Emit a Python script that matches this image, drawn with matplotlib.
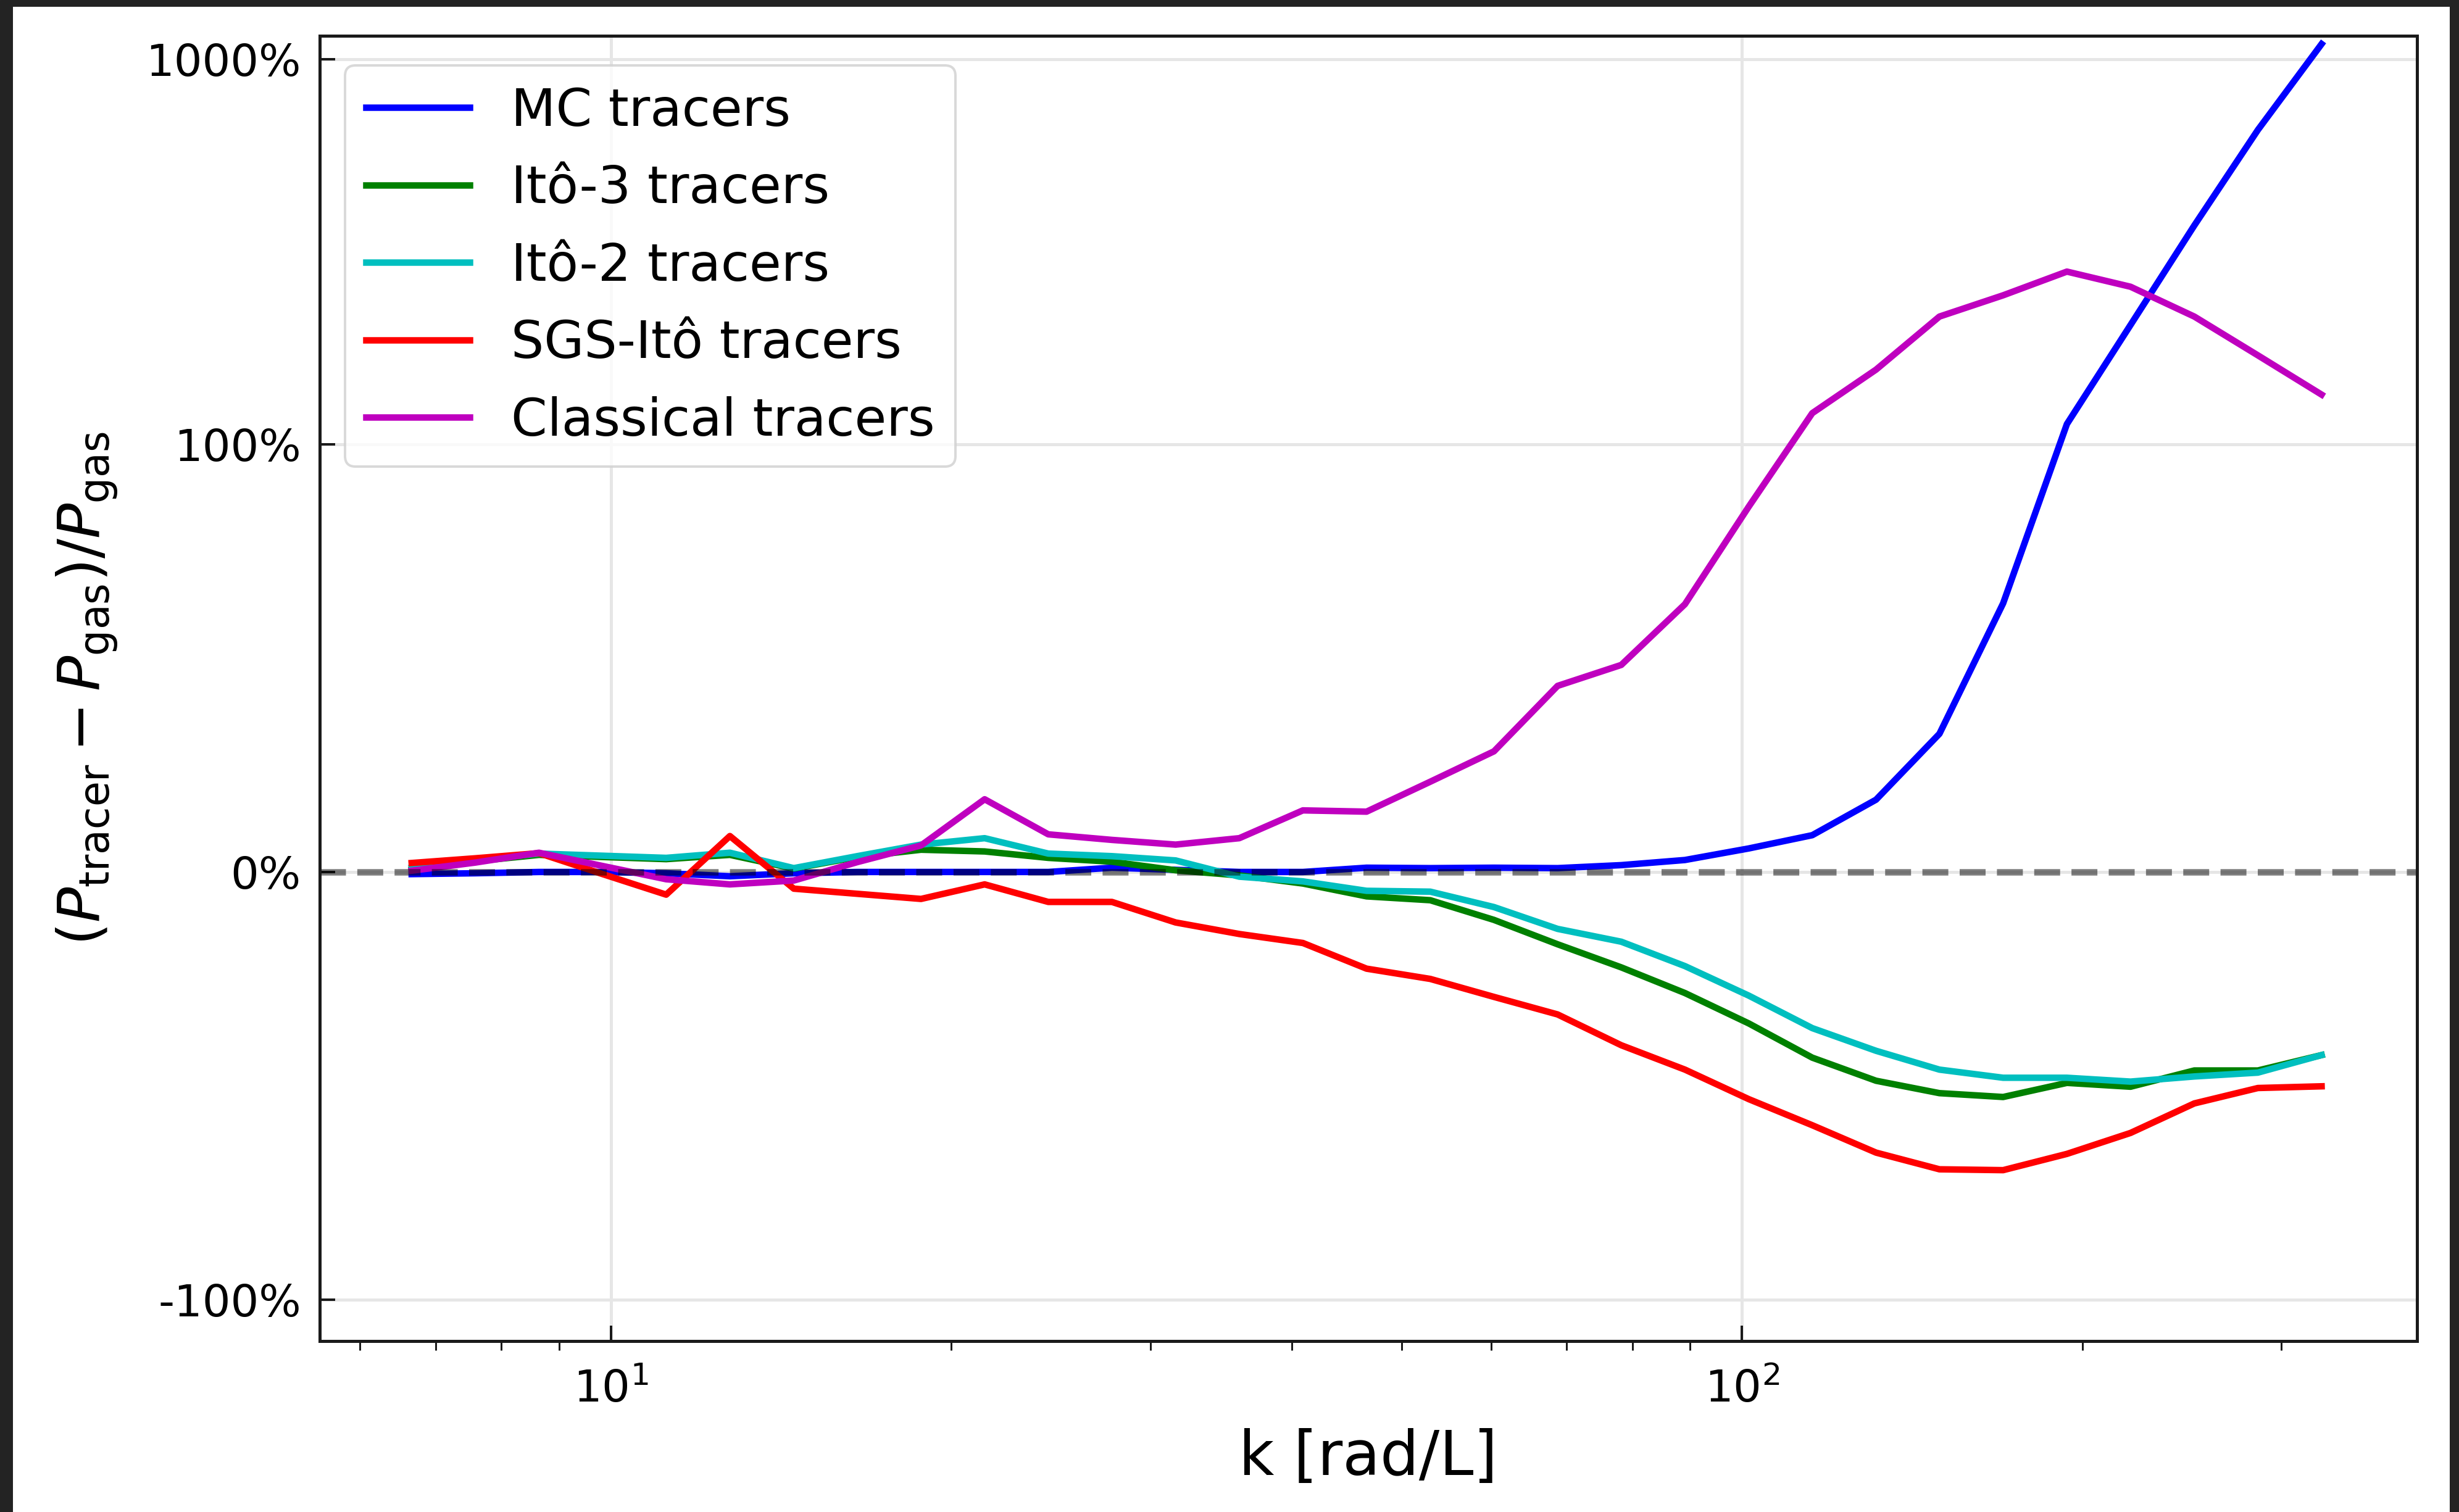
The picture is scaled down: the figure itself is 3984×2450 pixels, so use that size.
import matplotlib
matplotlib.use("Agg")
import matplotlib.pyplot as plt
from matplotlib.ticker import FuncFormatter, NullLocator, FixedLocator
from matplotlib.patches import Rectangle

# wavenumbers (rad/L)
k = [6.665, 7.587, 8.637, 9.833, 11.19, 12.74, 14.51, 16.51, 18.80, 21.40,
     24.36, 27.73, 31.57, 35.94, 40.91, 46.57, 53.02, 60.36, 68.71, 78.22,
     89.05, 101.4, 115.4, 131.4, 149.5, 170.2, 193.8, 220.6, 251.2, 285.9, 325.5]

# relative difference (P_tracer - P_gas)/P_gas in percent
mc = [-0.5, -0.3, 0.0, 0.0, -0.3, -1.0, -0.3, 0.0, 0.0, 0.0,
      0.0, 1.0, 0.5, 0.0, 0.0, 1.0, 0.9, 1.0, 0.9, 1.6,
      2.8, 5.5, 8.6, 16.9, 32.3, 62.8, 112.8, 204.0, 370.0, 655.0, 1095.0]
ito3 = [0.5, 2.5, 4.0, 3.5, 3.0, 4.0, 0.8, 3.5, 5.2, 4.8,
        3.3, 2.4, 0.4, -0.8, -2.7, -5.7, -6.6, -11.2, -16.9, -22.3,
        -28.3, -35.4, -43.4, -48.8, -51.7, -52.6, -49.3, -50.2, -46.4, -46.4, -42.8]
ito2 = [1.0, 2.8, 4.3, 3.8, 3.3, 4.5, 0.9, 3.7, 6.4, 7.9,
        4.3, 3.7, 2.7, -1.1, -2.2, -4.4, -4.6, -8.2, -13.3, -16.3,
        -22.0, -28.9, -36.5, -41.8, -46.2, -48.1, -48.1, -49.0, -47.8, -46.9, -42.8]
sgs = [2.1, 3.2, 4.4, -0.5, -5.3, 8.4, -3.9, -5.1, -6.3, -2.9,
       -7.0, -7.0, -11.8, -14.5, -16.6, -22.6, -25.0, -29.2, -33.3, -40.5,
       -46.2, -53.1, -59.2, -65.6, -69.5, -69.7, -65.9, -61.0, -54.1, -50.5, -50.1]
classical = [0.3, 2.2, 4.5, 1.4, -1.7, -2.9, -2.0, 2.3, 6.2, 17.0,
             8.8, 7.5, 6.4, 7.9, 14.4, 14.1, 21.1, 28.2, 43.5, 48.4,
             62.6, 85.4, 120.4, 156.2, 214.5, 243.6, 280.7, 256.4, 214.5, 170.1, 134.5]

labels = ["MC tracers", "Itô-3 tracers", "Itô-2 tracers", "SGS-Itô tracers", "Classical tracers"]
colors = ["b", "g", "c", "r", "m"]
series = [mc, ito3, ito2, sgs, classical]

W, H = 3984, 2450
fig = plt.figure(figsize=(W / 72, H / 72), dpi=72)
fig.patch.set_facecolor("white")
ax = fig.add_axes([518 / W, 1 - 2173 / H, (3916 - 518) / W, (2173 - 58) / H])

LW = 10.5
for y, c, lab in zip(series, colors, labels):
    ax.plot(k, y, color=c, lw=LW, label=lab)
ax.axhline(0, color="k", alpha=0.5, lw=LW, ls="--", dashes=(4.0, 1.75))

ax.set_xscale("log")
ax.set_yscale("symlog", linthresh=100, linscale=1)
ax.set_xlim(5.527, 395.3)
ax.set_ylim(-128, 1150)
ax.yaxis.set_major_locator(FixedLocator([-100, 0, 100, 1000]))
ax.yaxis.set_minor_locator(NullLocator())
ax.yaxis.set_major_formatter(FuncFormatter(lambda v, p: f"{v:.0f}%"))

ax.grid(True, which="major", color="#e6e6e6", lw=5)
ax.set_axisbelow(True)
for s in ax.spines.values():
    s.set_linewidth(5)
    s.set_color("#1a1a1a")

ax.tick_params(which="major", direction="in", length=25, width=4, labelsize=72, colors="#1a1a1a")
ax.tick_params(axis="x", which="major", pad=45)
ax.tick_params(axis="y", which="major", pad=30)
ax.tick_params(which="minor", direction="out", length=15, width=3, colors="#1a1a1a")
for t in ax.get_xticklabels() + ax.get_yticklabels():
    t.set_color("black")

ax.set_xlabel("k [rad/L]", fontsize=99, labelpad=27)
ax.set_ylabel(r"$(P_{\mathrm{tracer}} - P_{\mathrm{gas}})/P_{\mathrm{gas}}$", fontsize=95, labelpad=42)

leg = ax.legend(loc="upper left", fontsize=84, borderaxespad=0.0, labelspacing=0.53,
                framealpha=0.8, bbox_to_anchor=(41 / 3398, 1 - 48 / 2115))
leg.get_frame().set_linewidth(4)
leg.get_frame().set_edgecolor("#d0d0d0")

# dark screenshot frame
dark = "#232323"
fig.add_artist(Rectangle((0, 0), 20 / W, 1, transform=fig.transFigure, color=dark, zorder=10))
fig.add_artist(Rectangle((0, 1 - 10 / H), 1, 10 / H, transform=fig.transFigure, color=dark, zorder=10))
fig.add_artist(Rectangle((1 - 15 / W, 0), 15 / W, 1, transform=fig.transFigure, color=dark, zorder=10))

fig.savefig("out.png", dpi=72)
